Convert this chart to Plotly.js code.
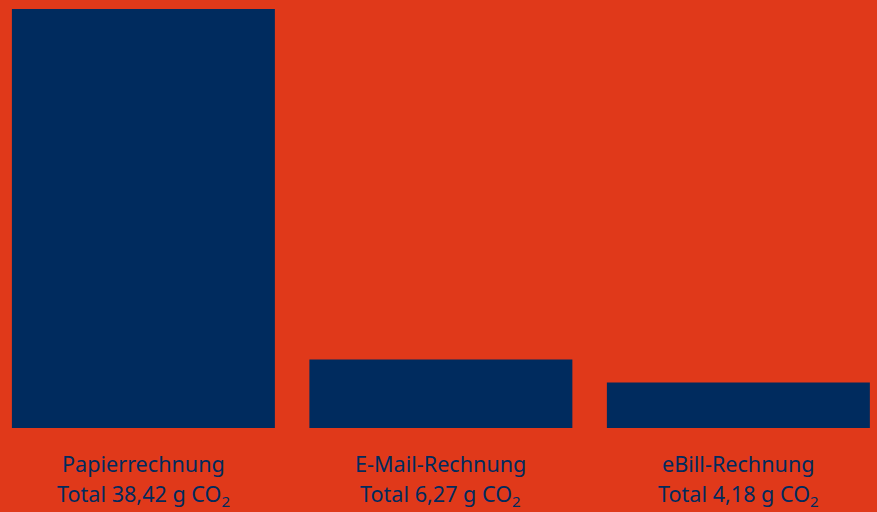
<!DOCTYPE html>
<html>
<head>
<meta charset="utf-8">
<script src="https://cdn.plot.ly/plotly-3.0.1.min.js"></script>
<style>html,body{margin:0;padding:0;background:#E0391A;}#chart{width:877px;height:512px;}</style>
</head>
<body>
<div id="chart"></div>
<script>
const categories = ["Papierrechnung", "E-Mail-Rechnung", "eBill-Rechnung"];
const values = [38.42, 6.27, 4.18];
const totalLabels = ["Total 38,42 g CO<sub>2</sub>", "Total 6,27 g CO<sub>2</sub>", "Total 4,18 g CO<sub>2</sub>"];

const navy = "#002B5E";
const bg = "#E0391A";
const font = {family: "Noto Sans, Open Sans, sans-serif", size: 21.6, color: navy};

const annotations = [];
categories.forEach((c, i) => {
  annotations.push({x: i, xref: "x", y: 0, yref: "paper", yanchor: "middle", yshift: -35,
    text: c, showarrow: false, font: font});
  annotations.push({x: i, xref: "x", y: 0, yref: "paper", yanchor: "middle", yshift: -67,
    text: totalLabels[i], showarrow: false, font: font});
});

Plotly.newPlot("chart", [{
  type: "bar",
  x: [0, 1, 2],
  y: values,
  width: 0.884,
  marker: {color: navy},
  hoverinfo: "none"
}], {
  width: 877, height: 512,
  margin: {l: 0, r: 0, t: 9, b: 84},
  paper_bgcolor: bg, plot_bgcolor: bg,
  showlegend: false,
  xaxis: {range: [-0.482, 2.466], showgrid: false, zeroline: false, showticklabels: false, fixedrange: true},
  yaxis: {range: [0, 38.42], showgrid: false, zeroline: false, showticklabels: false, fixedrange: true},
  annotations: annotations
}, {displayModeBar: false, staticPlot: true});
</script>
</body>
</html>
